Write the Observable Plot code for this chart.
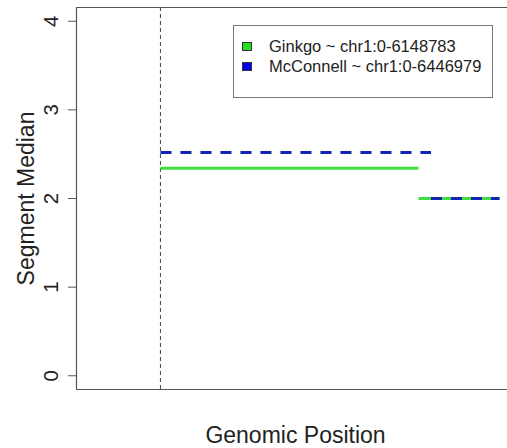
<!DOCTYPE html>
<html>
<head>
<meta charset="utf-8">
<script src="https://cdn.jsdelivr.net/npm/d3@7"></script>
<script src="https://cdn.jsdelivr.net/npm/@observablehq/plot@0.6"></script>
<style>
  html, body { margin: 0; padding: 0; background: #fff; overflow: hidden; }
  #wrap { position: relative; width: 507px; height: 448px; font-family: "Liberation Sans", Arial, Helvetica, sans-serif; }
  #legend {
    position: absolute; left: 233px; top: 25px; width: 258px; height: 61px;
    border: 1px solid #777; background: #fff; box-sizing: content-box;
    padding-top: 10px; font-size: 16.5px; color: #222;
  }
  #legend .row { display: flex; align-items: center; height: 20.5px; white-space: nowrap; }
  #legend .sw { width: 8px; height: 7px; border: 1px solid #333; margin-left: 8px; margin-right: 17px; }
</style>
</head>
<body>
<div id="wrap"></div>
<script>
// Segment medians along chr1 for the two callers
const ginkgoStart   = [0, 6148783];
const ginkgoEnd     = [6148783, 8080000];
const ginkgoMedian  = [2.34, 2.0];

const mcconnellStart  = [0, 6446979];
const mcconnellEnd    = [6446979, 8080000];
const mcconnellMedian = [2.52, 2.0];

const seriesNames  = ["Ginkgo", "McConnell"];
const seriesRanges = ["chr1:0-6148783", "chr1:0-6446979"];
const seriesColors = ["#3ede3e", "#1424b4"];

const yTicks  = [0, 1, 2, 3, 4];
const xDomain = [-2.0e6, 8.27e6];
const yDomain = [-0.155, 4.155];
const chromStart = [0];

const ginkgo = ginkgoStart.map((s, i) => ({x1: s, x2: ginkgoEnd[i], y: ginkgoMedian[i]}));
const mcconnell = mcconnellStart.map((s, i) => ({x1: s, x2: mcconnellEnd[i], y: mcconnellMedian[i]}));

const frameColor = "#555";

const chart = Plot.plot({
  width: 507,
  height: 448,
  marginLeft: 76,
  marginRight: 0,
  marginTop: 7,
  marginBottom: 59,
  style: {fontFamily: "Liberation Sans, Arial, Helvetica, sans-serif", color: "#222", background: "#fff"},
  x: {domain: xDomain, axis: null},
  y: {domain: yDomain},
  marks: [
    // chromosome start marker
    Plot.ruleX(chromStart, {stroke: "#444", strokeWidth: 1, strokeDasharray: "4,3"}),
    Plot.link(ginkgo, {x1: "x1", x2: "x2", y1: "y", y2: "y", stroke: seriesColors[0], strokeWidth: 3}),
    Plot.link(mcconnell, {x1: "x1", x2: "x2", y1: "y", y2: "y", stroke: seriesColors[1], strokeWidth: 3, strokeDasharray: "11,9"}),
    // open box: left, top and bottom sides of the plotting region
    Plot.ruleX([xDomain[0]], {stroke: frameColor, strokeWidth: 1.2}),
    Plot.ruleY(yDomain, {stroke: frameColor, strokeWidth: 1.2}),
    Plot.axisY({ticks: yTicks, tickFormat: d3.format("d"), tickSize: 8, tickPadding: 11, tickRotate: -90, fontSize: 20.5, stroke: frameColor, label: null}),
    Plot.text(["Segment Median"], {frameAnchor: "left", textAnchor: "middle", lineAnchor: "middle", rotate: -90, dx: -50, fontSize: 23, fill: "#222"}),
    Plot.text(["Genomic Position"], {frameAnchor: "bottom", textAnchor: "middle", lineAnchor: "middle", dy: 46, dx: 3.5, fontSize: 23, fill: "#222"})
  ]
});

const wrap = document.getElementById("wrap");
wrap.appendChild(chart);

const legend = document.createElement("div");
legend.id = "legend";
seriesNames.forEach((name, i) => {
  const row = document.createElement("div");
  row.className = "row";
  const sw = document.createElement("span");
  sw.className = "sw";
  sw.style.background = i === 0 ? "#22e022" : "#0000ee";
  const label = document.createElement("span");
  label.textContent = `${name} ~ ${seriesRanges[i]}`;
  row.appendChild(sw);
  row.appendChild(label);
  legend.appendChild(row);
});
wrap.appendChild(legend);
</script>
</body>
</html>
